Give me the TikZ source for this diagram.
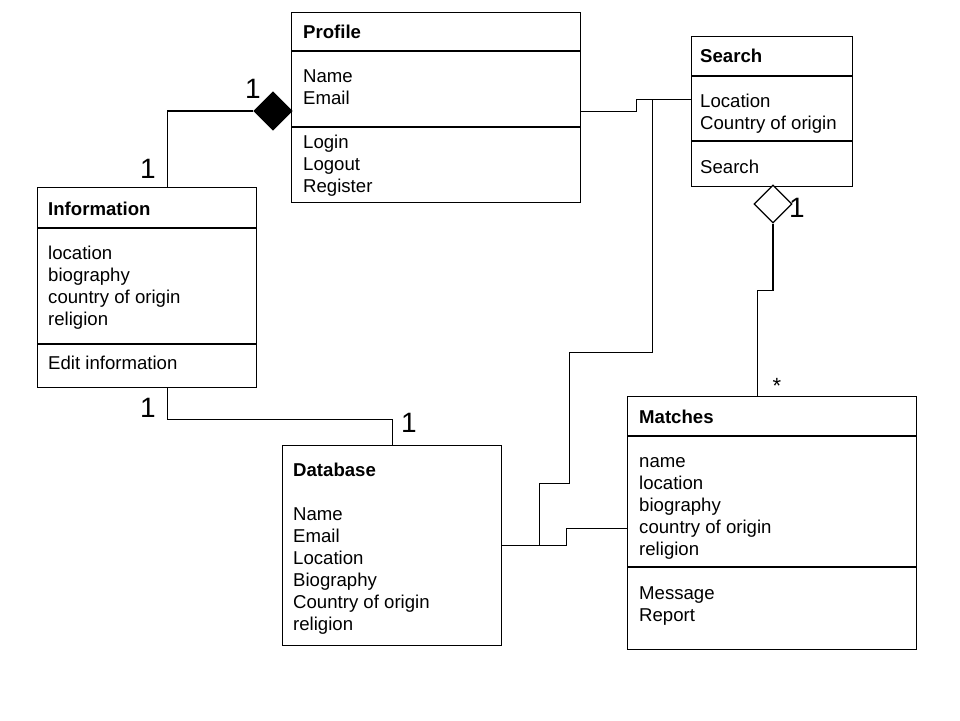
\documentclass[tikz,border=0pt]{standalone}
\usepackage{fontspec}
\setmainfont{Liberation Sans}
\usetikzlibrary{shapes.geometric,calc}

\tikzset{
  umlbox/.style={draw, line width=1.2pt, anchor=north west, inner sep=0pt},
  title/.style={anchor=base west, inner sep=0pt, font=\bfseries\fontsize{18.6}{22}\selectfont},
  entry/.style={anchor=base west, inner sep=0pt, font=\fontsize{18.6}{22}\selectfont},
  mult/.style={inner sep=0pt, font=\fontsize{28}{30}\selectfont},
  star/.style={inner sep=0pt, font=\fontsize{22}{24}\selectfont},
  link/.style={line width=1.1pt},
  divider/.style={line width=1.1pt},
  aggr/.style={diamond, draw, line width=1.2pt, minimum width=38pt, minimum height=38pt, inner sep=0pt},
}

\begin{document}
\begin{tikzpicture}[x=1pt, y=-1pt]
  \useasboundingbox (0,0) rectangle (960,720);
  \fill[white] (0,0) rectangle (960,720);

  % ---------- class boxes ----------
  \node[umlbox, minimum width=289pt, minimum height=190pt] (profile) at (291,12) {};
  \node[umlbox, minimum width=161pt, minimum height=150pt] (search) at (691,36) {};
  \node[umlbox, minimum width=219pt, minimum height=200pt] (info) at (37,187) {};
  \node[umlbox, minimum width=219pt, minimum height=200pt] (db) at (282,445) {};
  \node[umlbox, minimum width=289pt, minimum height=253pt] (matches) at (627,396) {};

  % ---------- compartment dividers ----------
  \draw[divider] ($(profile.north west)+(0,39)$) -- ($(profile.north east)+(0,39)$);
  \draw[divider] ($(profile.north west)+(0,115)$) -- ($(profile.north east)+(0,115)$);
  \draw[divider] ($(search.north west)+(0,40)$) -- ($(search.north east)+(0,40)$);
  \draw[divider] ($(search.north west)+(0,105)$) -- ($(search.north east)+(0,105)$);
  \draw[divider] ($(info.north west)+(0,41)$) -- ($(info.north east)+(0,41)$);
  \draw[divider] ($(info.north west)+(0,157)$) -- ($(info.north east)+(0,157)$);
  \draw[divider] ($(matches.north west)+(0,40)$) -- ($(matches.north east)+(0,40)$);
  \draw[divider] ($(matches.north west)+(0,171)$) -- ($(matches.north east)+(0,171)$);

  % ---------- Profile ----------
  \node[title] (profile-t) at (303,38) {Profile};
  \foreach \s [count=\i from 0] in {Name,Email}
    \node[entry] (profile-a\i) at (303,82+22*\i) {\s};
  \foreach \s [count=\i from 0] in {Login,Logout,Register}
    \node[entry] (profile-m\i) at (303,148+22*\i) {\s};

  % ---------- Search ----------
  \node[title] (search-t) at (700,62) {Search};
  \foreach \s [count=\i from 0] in {Location,Country of origin}
    \node[entry] (search-a\i) at (700,107+22*\i) {\s};
  \node[entry] (search-m0) at (700,173) {Search};

  % ---------- Information ----------
  \node[title] (info-t) at (48,215) {Information};
  \foreach \s [count=\i from 0] in {location,biography,country of origin,religion}
    \node[entry] (info-a\i) at (48,259+22*\i) {\s};
  \node[entry] (info-m0) at (48,369) {Edit information};

  % ---------- Database ----------
  \node[title] (db-t) at (293,476) {Database};
  \foreach \s [count=\i from 0] in {Name,Email,Location,Biography,Country of origin,religion}
    \node[entry] (db-a\i) at (293,520+22*\i) {\s};

  % ---------- Matches ----------
  \node[title] (matches-t) at (639,423) {Matches};
  \foreach \s [count=\i from 0] in {name,location,biography,country of origin,religion}
    \node[entry] (matches-a\i) at (639,467+22*\i) {\s};
  \foreach \s [count=\i from 0] in {Message,Report}
    \node[entry] (matches-m\i) at (639,599+22*\i) {\s};

  % ---------- aggregation diamonds ----------
  \node[aggr, fill=black] (agg-profile) at (273,111) {};
  \node[aggr, fill=white] (agg-search) at (773,204) {};

  % ---------- connectors ----------
  % Information -- Profile (composition)
  \draw[link] (agg-profile.west) -| ([xshift=20.5pt]info.north);
  % Information -- Database
  \draw[link] ([xshift=20.5pt]info.south) -- ++(0,31) -| (db.north);
  % Profile -- Search
  \draw[link] ([yshift=-4pt]profile.east) -- ++(55,0) |- ([yshift=12pt]search.west);
  % Database -- Search
  \draw[link] (db.east) -- ++(37,0) -- ++(0,-62) -- ++(30,0) -- ++(0,-131)
              -- ++(83,0) |- ([yshift=12pt]search.west);
  % Database -- Matches
  \draw[link] (db.east) -- ++(64,0) |- ([yshift=-5.5pt]matches.west);
  % Search -- Matches (aggregation)
  \draw[link] (agg-search.south) -- ++(0,67) -| ([xshift=-14.5pt]matches.north);

  % ---------- multiplicities ----------
  \node[mult] (m-profile) at (253,89) {1};
  \node[mult] (m-info-top) at (148,169) {1};
  \node[mult] (m-info-bot) at (148,408) {1};
  \node[mult] (m-db) at (409,423) {1};
  \node[mult] (m-search) at (797,208) {1};
  \node[star] (m-matches) at (777,386) {*};
\end{tikzpicture}
\end{document}
